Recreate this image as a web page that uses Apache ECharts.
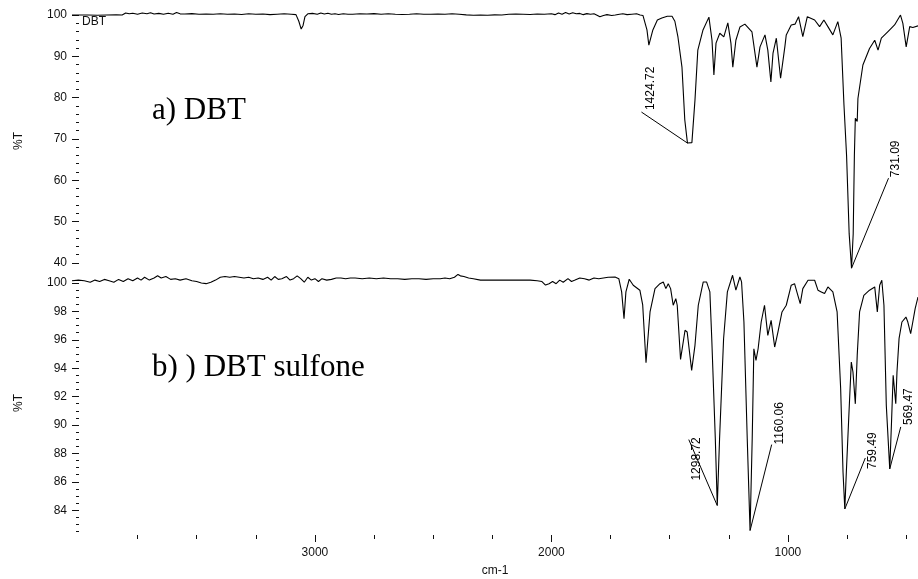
<!DOCTYPE html>
<html>
<head>
<meta charset="utf-8">
<script src="https://cdn.jsdelivr.net/npm/echarts@6.0.0/dist/echarts.min.js"></script>
<style>
  html, body { margin: 0; padding: 0; background: #fff; }
  #chart { width: 918px; height: 579px; }
</style>
</head>
<body>
<div id="chart"></div>
<script>
// FT-IR spectrum of dibenzothiophene (DBT): wavenumber (cm-1) and %T
const dbtWavenumber = [
  4027, 4000, 3960, 3920, 3880, 3840, 3815, 3800, 3785, 3770, 3750, 3730, 3710, 3695, 3680,
  3660, 3640, 3620, 3600, 3585, 3570, 3550, 3520, 3490, 3460, 3430, 3400, 3370, 3340, 3310,
  3280, 3250, 3220, 3190, 3160, 3130, 3100, 3080, 3068, 3058, 3050, 3042, 3030, 3010, 2990,
  2975, 2960, 2945, 2930, 2915, 2900, 2880, 2860, 2840, 2810, 2780, 2750, 2720, 2690, 2660,
  2630, 2600, 2570, 2540, 2510, 2480, 2450, 2420, 2390, 2360, 2330, 2300, 2270, 2240, 2210,
  2180, 2150, 2120, 2090, 2060, 2030, 2000, 1985, 1970, 1955, 1940, 1925, 1910, 1895, 1880,
  1865, 1850, 1835, 1820, 1805, 1795, 1780, 1765, 1745, 1730, 1712, 1698, 1680, 1660, 1640,
  1625, 1613, 1596, 1588, 1571, 1552, 1533, 1510, 1490, 1478, 1465, 1448, 1436, 1424.72, 1406,
  1393, 1381, 1359, 1334, 1321, 1313, 1304, 1288, 1271, 1254, 1241, 1233, 1220, 1203, 1182,
  1152, 1131, 1118, 1097, 1085, 1072, 1063, 1049, 1031, 1013, 1007, 986, 970, 955, 937,
  918, 887, 866, 848, 831, 810, 789, 775, 763, 752, 741, 731.09, 724, 719, 715,
  707, 704, 683, 655, 633, 619, 605, 577, 549, 524, 514, 500, 485, 472, 450
];
const dbtTransmittance = [
  100.0, 100.0, 100.0, 99.95, 100.0, 100.05, 100.0, 100.5, 100.3, 100.45, 100.2, 100.5, 100.3, 100.55, 100.25,
  100.4, 100.2, 100.45, 100.2, 100.6, 100.3, 100.25, 100.35, 100.2, 100.25, 100.2, 100.3, 100.2, 100.25, 100.15,
  100.3, 100.2, 100.25, 100.1, 100.2, 100.3, 100.2, 100.1, 98.5, 96.6, 97.5, 99.6, 100.3, 100.4, 100.2,
  100.5, 100.25, 100.45, 100.2, 100.3, 100.15, 100.3, 100.2, 100.2, 100.3, 100.25, 100.35, 100.2, 100.3, 100.2,
  100.15, 100.2, 100.3, 100.2, 100.2, 100.25, 100.2, 100.3, 100.2, 100.05, 99.95, 100.0, 99.95, 100.05, 100.0,
  100.2, 100.25, 100.2, 100.15, 100.25, 100.2, 100.3, 100.1, 100.5, 100.2, 100.6, 100.25, 100.55, 100.3, 100.4,
  100.1, 100.35, 100.2, 100.3, 99.9, 99.6, 99.9, 100.1, 99.9, 100.0, 100.2, 100.3, 100.1, 100.2, 100.3,
  100.0, 99.9, 96.4, 92.7, 96.4, 98.8, 99.3, 99.7, 99.7, 98.5, 94.7, 87.4, 74.6, 69.0, 69.1,
  79.4, 91.5, 96.4, 99.5, 93.9, 85.5, 93.2, 95.6, 94.7, 98.1, 93.2, 87.4, 93.9, 97.1, 97.8,
  95.9, 87.4, 92.3, 95.2, 91.5, 83.8, 90.8, 94.4, 84.7, 92.3, 95.2, 97.6, 97.8, 99.6, 94.8,
  99.6, 98.8, 97.2, 98.8, 97.2, 95.2, 98.4, 94.4, 78.2, 66.0, 47.0, 38.7, 47.0, 66.0, 75.0,
  74.2, 79.8, 87.9, 91.9, 93.9, 91.5, 94.4, 96.0, 97.6, 100.0, 98.0, 92.3, 97.2, 97.0, 97.4
];

// FT-IR spectrum of dibenzothiophene sulfone
const sulfoneWavenumber = [
  4027, 4000, 3975, 3950, 3930, 3910, 3890, 3870, 3850, 3830, 3810, 3790, 3770, 3750, 3735,
  3720, 3700, 3680, 3665, 3650, 3630, 3610, 3590, 3570, 3545, 3520, 3500, 3480, 3460, 3440,
  3420, 3400, 3380, 3360, 3340, 3320, 3300, 3280, 3260, 3240, 3220, 3200, 3185, 3170, 3155,
  3140, 3120, 3105, 3090, 3075, 3060, 3045, 3030, 3015, 3000, 2985, 2970, 2950, 2930, 2910,
  2890, 2870, 2850, 2830, 2800, 2770, 2740, 2710, 2680, 2650, 2620, 2590, 2560, 2530, 2500,
  2470, 2450, 2430, 2410, 2395, 2385, 2370, 2350, 2330, 2300, 2270, 2240, 2210, 2180, 2150,
  2120, 2090, 2060, 2040, 2025, 2010, 1995, 1980, 1965, 1950, 1930, 1915, 1900, 1880, 1860,
  1840, 1820, 1800, 1780, 1760, 1731, 1715, 1703, 1693, 1685, 1671, 1654, 1626, 1614, 1600,
  1583, 1562, 1541, 1527, 1516, 1506, 1496, 1485, 1474, 1468, 1454, 1435, 1426, 1407, 1393,
  1379, 1358, 1344, 1330, 1322, 1307, 1298.72, 1289, 1272, 1256, 1234, 1220, 1203, 1196, 1186,
  1172, 1160.06, 1151, 1144, 1135, 1126, 1113, 1099, 1085, 1071, 1063, 1056, 1042, 1025, 1007,
  986, 972, 958, 948, 937, 915, 887, 873, 859, 845, 831, 810, 792, 777, 767,
  759.49, 753, 743, 732, 725, 715, 707, 697, 679, 655, 633, 622, 612, 603, 594,
  584, 569.47, 562, 555, 547, 544, 539, 530, 518, 501, 493, 481, 472, 462, 450
];
const sulfoneTransmittance = [
  100.15, 100.2, 100.15, 100.05, 100.2, 100.1, 100.25, 100.15, 100.05, 100.25, 100.1, 100.3, 100.15, 100.35, 100.2,
  100.4, 100.2, 100.35, 100.5, 100.35, 100.45, 100.25, 100.3, 100.2, 100.3, 100.15, 100.1, 100.0, 99.95, 100.05,
  100.2, 100.4, 100.45, 100.4, 100.45, 100.4, 100.35, 100.4, 100.3, 100.35, 100.25, 100.4, 100.2, 100.45, 100.25,
  100.3, 100.45, 100.2, 100.3, 100.5, 100.3, 100.05, 100.4, 100.2, 100.3, 100.1, 100.3, 100.2, 100.25, 100.35,
  100.35, 100.3, 100.35, 100.35, 100.3, 100.35, 100.3, 100.35, 100.3, 100.3, 100.25, 100.3, 100.3, 100.25, 100.3,
  100.3, 100.35, 100.3, 100.4, 100.6, 100.5, 100.45, 100.35, 100.3, 100.2, 100.2, 100.2, 100.2, 100.2, 100.2,
  100.2, 100.2, 100.15, 100.1, 99.85, 99.95, 100.1, 99.95, 100.2, 100.05, 100.3, 100.1, 100.2, 100.35, 100.3,
  100.2, 100.35, 100.3, 100.35, 100.4, 100.42, 100.3, 99.37, 97.48, 99.37, 100.26, 99.84, 99.49, 98.45, 94.38,
  97.96, 99.6, 99.95, 100.07, 99.6, 99.95, 99.6, 98.43, 98.89, 98.43, 94.62, 96.67, 96.55, 93.85, 95.61,
  98.43, 100.07, 100.07, 99.37, 96.07, 89.03, 84.33, 89.03, 96.07, 99.37, 100.54, 99.49, 100.42, 100.07, 97.25,
  89.03, 82.57, 89.03, 95.37, 94.55, 95.37, 97.25, 98.43, 96.31, 97.37, 97.48, 95.49, 96.55, 97.96, 98.43,
  99.84, 99.95, 99.13, 98.54, 99.6, 100.19, 100.19, 99.49, 99.37, 99.25, 99.72, 99.37, 97.96, 92.55, 86.68,
  84.09, 86.68, 90.44, 94.43, 93.73, 91.49, 94.9, 97.96, 99.13, 99.49, 99.72, 97.96, 99.84, 100.19, 98.43,
  91.38, 86.91, 90.2, 93.5, 93.4, 91.5, 93.7, 96.1, 97.25, 97.6, 97.25, 96.43, 97.25, 98.19, 99.01
];

// Labelled absorption peaks (wavenumber, %T)
const dbtPeakWavenumber = [1424.72, 731.09];
const dbtPeakTransmittance = [69.0, 38.7];
const sulfonePeakWavenumber = [1298.72, 1160.06, 759.49, 569.47];
const sulfonePeakTransmittance = [84.33, 82.57, 84.09, 86.91];

// Axis ticks and labels
const wavenumberMajorTicks = [1000, 2000, 3000];
const wavenumberMinorTicks = [500, 750, 1250, 1500, 1750, 2250, 2500, 2750, 3250, 3500, 3750];
const dbtMajorTicks = [40, 50, 60, 70, 80, 90, 100];
const dbtMinorTicks = [40, 42, 44, 46, 48, 50, 52, 54, 56, 58, 60, 62, 64, 66, 68, 70, 72, 74, 76, 78,
  80, 82, 84, 86, 88, 90, 92, 94, 96, 98, 100];
const sulfoneMajorTicks = [84, 86, 88, 90, 92, 94, 96, 98, 100];
const sulfoneMinorTicks = [82.5, 83, 83.5, 84, 84.5, 85, 85.5, 86, 86.5, 87, 87.5, 88, 88.5, 89, 89.5,
  90, 90.5, 91, 91.5, 92, 92.5, 93, 93.5, 94, 94.5, 95, 95.5, 96, 96.5, 97, 97.5, 98, 98.5, 99, 99.5, 100];

// Leader-line layout for the peak labels: [line dx, line dy, text dx, text dy] in pixels
const peakLabelLayout = {
  dbtPeaks: [[-46, -31, 9, -2], [37, -90, 7, -1]],
  sulfonePeaks: [[-28.5, -66, 8, 41], [21.6, -86, 8, 0], [20.5, -51, 7, 11], [11, -42, 7.5, -2]]
};

const SANS = '"Liberation Sans", Arial, sans-serif';
const SERIF = '"Liberation Serif", "Times New Roman", serif';
const INK = '#111';

function zip(a, b) { return a.map((v, i) => [v, b[i]]); }
function peakData(wn, t) { return wn.map((v, i) => [v, t[i], i]); }

function renderPeak(params, api) {
  const lay = peakLabelLayout[params.seriesName][api.value(2)];
  const p = api.coord([api.value(0), api.value(1)]);
  const ex = p[0] + lay[0];
  const ey = p[1] + lay[1];
  return {
    type: 'group',
    children: [
      { type: 'line', shape: { x1: p[0], y1: p[1], x2: ex, y2: ey },
        style: { stroke: '#000', lineWidth: 1 } },
      { type: 'text', x: ex + lay[2], y: ey + lay[3], rotation: Math.PI / 2,
        style: { text: api.value(0).toFixed(2), font: '12px ' + SANS, fill: '#000',
                 align: 'left', verticalAlign: 'middle' } }
    ]
  };
}

function yAxisPair(gridIndex, min, max, major, minor) {
  return [
    { gridIndex, type: 'value', position: 'left', min, max, offset: -7,
      name: '%T', nameLocation: 'middle', nameGap: 54,
      nameTextStyle: { fontFamily: SANS, fontSize: 12, color: INK },
      axisLine: { show: false }, splitLine: { show: false },
      axisTick: { show: true, length: 7, customValues: major, lineStyle: { color: INK, width: 1 } },
      axisLabel: { show: true, customValues: major, margin: 12, fontFamily: SANS, fontSize: 12, color: INK } },
    { gridIndex, type: 'value', position: 'left', min, max, offset: -7,
      axisLine: { show: false }, splitLine: { show: false },
      axisTick: { show: true, length: 3, customValues: minor, lineStyle: { color: INK, width: 1 } },
      axisLabel: { show: false } }
  ];
}

const chart = echarts.init(document.getElementById('chart'), null, { renderer: 'canvas' });

chart.setOption({
  animation: false,
  backgroundColor: '#fff',
  grid: [
    { left: 72, right: 0, top: 13, height: 256 },
    { left: 72, right: 0, top: 273, height: 260 }
  ],
  xAxis: [
    { gridIndex: 0, type: 'value', min: 450, max: 4027, inverse: true, show: false },
    { gridIndex: 1, type: 'value', position: 'bottom', min: 450, max: 4027, inverse: true, offset: 2,
      name: 'cm-1', nameLocation: 'middle', nameGap: 30,
      nameTextStyle: { fontFamily: SANS, fontSize: 12, color: INK },
      axisLine: { show: false }, splitLine: { show: false },
      axisTick: { show: true, length: 7, customValues: wavenumberMajorTicks, lineStyle: { color: INK } },
      axisLabel: { show: true, customValues: wavenumberMajorTicks, margin: 12,
                   formatter: (v) => String(v), fontFamily: SANS, fontSize: 12, color: INK } },
    { gridIndex: 1, type: 'value', position: 'bottom', min: 450, max: 4027, inverse: true, offset: 2,
      axisLine: { show: false }, splitLine: { show: false },
      axisTick: { show: true, length: 4, customValues: wavenumberMinorTicks, lineStyle: { color: INK } },
      axisLabel: { show: false } }
  ],
  yAxis: [
    ...yAxisPair(0, 38.5, 100.5, dbtMajorTicks, dbtMinorTicks),
    ...yAxisPair(1, 82.4, 100.7, sulfoneMajorTicks, sulfoneMinorTicks)
  ],
  graphic: [
    { type: 'text', left: 82, top: 16, style: { text: 'DBT', font: '12px ' + SANS, fill: INK } },
    { type: 'text', left: 152, top: 95, style: { text: 'a) DBT', font: '31px ' + SERIF, fill: '#000' } },
    { type: 'text', left: 152, top: 352, style: { text: 'b) ) DBT sulfone', font: '31px ' + SERIF, fill: '#000' } }
  ],
  series: [
    { name: 'DBT', type: 'line', xAxisIndex: 0, yAxisIndex: 0,
      data: zip(dbtWavenumber, dbtTransmittance), showSymbol: false, clip: false,
      lineStyle: { color: '#000', width: 1.1 } },
    { name: 'DBT sulfone', type: 'line', xAxisIndex: 1, yAxisIndex: 2,
      data: zip(sulfoneWavenumber, sulfoneTransmittance), showSymbol: false, clip: false,
      lineStyle: { color: '#000', width: 1.1 } },
    { name: 'dbtPeaks', type: 'custom', xAxisIndex: 0, yAxisIndex: 0,
      data: peakData(dbtPeakWavenumber, dbtPeakTransmittance), renderItem: renderPeak },
    { name: 'sulfonePeaks', type: 'custom', xAxisIndex: 1, yAxisIndex: 2,
      data: peakData(sulfonePeakWavenumber, sulfonePeakTransmittance), renderItem: renderPeak }
  ]
});
</script>
</body>
</html>
